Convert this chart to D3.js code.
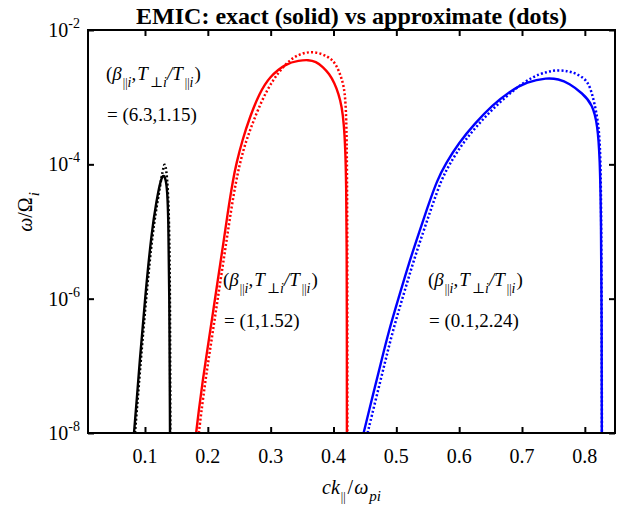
<!DOCTYPE html>
<html>
<head>
<meta charset="utf-8">
<script src="https://cdn.jsdelivr.net/npm/d3@7"></script>
<style>
body { margin: 0; background: #fff; }
svg { display: block; font-family: "Liberation Serif", "DejaVu Serif", serif; }
</style>
</head>
<body>
<script>
/*** DATA ***/
let xTicks = [0.1, 0.2, 0.3, 0.4, 0.5, 0.6, 0.7, 0.8];
let xTickLabels = ["0.1", "0.2", "0.3", "0.4", "0.5", "0.6", "0.7", "0.8"];
let yTicks = [1e-8, 1e-6, 1e-4, 1e-2];
let yTickExp = ["-8", "-6", "-4", "-2"];

/* beta = 6.3, T ratio 1.15 (noir) */
let kBlackExact = [0.0825, 0.0870, 0.0910, 0.1000, 0.1106, 0.1186, 0.1239, 0.1275, 0.1300, 0.1330, 0.1355, 0.1371, 0.1387, 0.1398];
let wBlackExact = [1e-8, 3.2e-8, 1e-7, 1e-6, 1.02e-5, 2.95e-5, 5.25e-5, 6.6e-5, 6.9e-5, 6.0e-5, 4.0e-5, 1.66e-5, 1.7e-6, 1e-8];
let kBlackApprox = [0.0841, 0.0926, 0.1016, 0.1122, 0.1212, 0.1265, 0.1295, 0.1315, 0.1340, 0.1362, 0.1382, 0.1398, 0.1403];
let wBlackApprox = [1e-8, 1e-7, 1e-6, 1.02e-5, 3.3e-5, 6.6e-5, 9.1e-5, 1.05e-4, 8.3e-5, 4.5e-5, 1.66e-5, 1.7e-6, 1e-8];

/* beta = 1, T ratio 1.52 (rouge) */
let kRedExact = [0.1814, 0.1850, 0.1920, 0.2000, 0.2080, 0.2159, 0.2239, 0.2315, 0.2400, 0.2455, 0.2550, 0.2670, 0.2820, 0.2980, 0.3247, 0.345, 0.360, 0.372, 0.383, 0.393, 0.4016, 0.408, 0.4133, 0.4165, 0.4187, 0.4203, 0.4210, 0.4213, 0.4213];
let wRedExact = [1e-8, 1.95e-8, 6.2e-8, 1.93e-7, 6.05e-7, 1.9e-6, 5.9e-6, 1.86e-5, 5.85e-5, 1.04e-4, 2.3e-4, 5.1e-4, 1.14e-3, 2.02e-3, 3.19e-3, 3.51e-3, 3.6e-3, 3.39e-3, 2.84e-3, 2.24e-3, 1.62e-3, 1.12e-3, 7.2e-4, 4.0e-4, 1.82e-4, 5.0e-5, 6.3e-6, 3.2e-7, 1e-8];
let kRedApprox = [0.1857, 0.1893, 0.1963, 0.2043, 0.2123, 0.2203, 0.2283, 0.2362, 0.2450, 0.2560, 0.2690, 0.2860, 0.3034, 0.3220, 0.3406, 0.3670, 0.3936, 0.4050, 0.4130, 0.4180, 0.4205, 0.4215, 0.4220, 0.4220];
let wRedApprox = [1e-8, 1.95e-8, 6.2e-8, 1.93e-7, 6.05e-7, 1.9e-6, 5.9e-6, 1.86e-5, 5.85e-5, 1.63e-4, 3.63e-4, 9.1e-4, 1.8e-3, 3.02e-3, 4.25e-3, 4.95e-3, 4.0e-3, 3.02e-3, 1.9e-3, 1.26e-3, 5.0e-4, 1e-4, 3.2e-6, 1e-8];

/* beta = 0.1, T ratio 2.24 (bleu) */
let kBlueExact = [0.4479, 0.4621, 0.4753, 0.4884, 0.5042, 0.5200, 0.5358, 0.5500, 0.5650, 0.5790, 0.5990, 0.6250, 0.6530, 0.6800, 0.7080, 0.7400, 0.7580, 0.7750, 0.7963, 0.8122, 0.8202, 0.8239, 0.8258, 0.8268, 0.8270];
let wBlueExact = [1e-8, 3.48e-8, 1.09e-7, 3.42e-7, 1.07e-6, 3.37e-6, 9.4e-6, 2.34e-5, 5.85e-5, 1.04e-4, 2.06e-4, 4.07e-4, 7.6e-4, 1.21e-3, 1.7e-3, 1.95e-3, 1.86e-3, 1.61e-3, 1.14e-3, 7.8e-4, 3.9e-4, 1.26e-4, 1.62e-5, 5e-7, 1e-8];
let kBlueApprox = [0.4542, 0.4684, 0.4816, 0.4947, 0.5105, 0.5263, 0.5421, 0.5565, 0.5715, 0.5855, 0.6055, 0.6315, 0.6595, 0.6900, 0.7167, 0.7400, 0.7565, 0.7730, 0.7857, 0.8042, 0.8122, 0.8228, 0.8255, 0.8265, 0.8272];
let wBlueApprox = [1e-8, 3.48e-8, 1.09e-7, 3.42e-7, 1.07e-6, 3.37e-6, 9.4e-6, 2.34e-5, 5.85e-5, 1.04e-4, 2.06e-4, 4.07e-4, 7.6e-4, 1.36e-3, 2.02e-3, 2.4e-3, 2.54e-3, 2.45e-3, 2.26e-3, 1.8e-3, 1.1e-3, 3.9e-4, 8.9e-5, 3.2e-6, 1e-8];

/*** GRAPH ***/
let margin = { top: 30, right: 2, bottom: 75, left: 88 },
  width = 617 - margin.left - margin.right,
  height = 508 - margin.top - margin.bottom;

let x = d3.scaleLinear().domain([0.0093, 0.848]).range([0, width]);
let y = d3.scaleLog().domain([1e-8, 1e-2]).range([height, 0]);

let root = d3.select("body").append("svg")
  .attr("width", 617)
  .attr("height", 508);

let svg = root.append("g")
  .attr("transform", "translate(" + margin.left + "," + margin.top + ")");

/* texte avec indices / exposants */
function rich(sel, parts) {
  let shift = 0;
  parts.forEach((p) => {
    let target = p.sub ? 7 : p.sup ? -9 : 0;
    let ts = sel.append("tspan").text(p.t);
    if (target !== shift) { ts.attr("dy", target - shift); shift = target; }
    if (p.sub || p.sup) ts.style("font-size", p.fs || "13px");
    if (p.i) ts.style("font-style", "italic");
    if (p.dx) ts.attr("dx", p.dx);
  });
}

/* courbes */
svg.append("clipPath").attr("id", "clip")
  .append("rect").attr("width", width).attr("height", height);

let line = d3.line()
  .x((d) => x(d[0]))
  .y((d) => y(d[1]))
  .curve(d3.curveBasis);

let series = [
  { k: kBlackExact, w: wBlackExact, color: "#000", dots: false },
  { k: kBlackApprox, w: wBlackApprox, color: "#000", dots: true },
  { k: kRedExact, w: wRedExact, color: "#ff0000", dots: false },
  { k: kRedApprox, w: wRedApprox, color: "#ff0000", dots: true },
  { k: kBlueExact, w: wBlueExact, color: "#0000ff", dots: false },
  { k: kBlueApprox, w: wBlueApprox, color: "#0000ff", dots: true }
];

let curves = svg.append("g").attr("clip-path", "url(#clip)");
series.forEach((s) => {
  curves.append("path")
    .datum(s.k.map((k, i) => [k, s.w[i]]))
    .attr("fill", "none")
    .attr("stroke", s.color)
    .attr("stroke-width", s.dots ? 2.5 : 2.4)
    .attr("stroke-dasharray", s.dots ? "2,2.2" : null)
    .attr("d", line);
});

/* axes (graduations vers l'intérieur) */
function styleAxis(g) {
  g.select(".domain").remove();
  g.selectAll(".tick line").attr("stroke", "#000").attr("stroke-width", 2);
}
svg.append("g").attr("transform", "translate(0," + height + ")")
  .call(d3.axisBottom(x).tickValues(xTicks).tickSize(-6).tickFormat(""))
  .call(styleAxis);
svg.append("g")
  .call(d3.axisTop(x).tickValues(xTicks).tickSize(-6).tickFormat(""))
  .call(styleAxis);
svg.append("g")
  .call(d3.axisLeft(y).tickValues(yTicks).tickSize(-6).tickFormat(""))
  .call(styleAxis);
svg.append("g").attr("transform", "translate(" + width + ",0)")
  .call(d3.axisRight(y).tickValues(yTicks).tickSize(-6).tickFormat(""))
  .call(styleAxis);

svg.append("rect")
  .attr("width", width).attr("height", height)
  .attr("fill", "none").attr("stroke", "#000").attr("stroke-width", 2);

/* étiquettes des graduations */
svg.selectAll(".xlab")
  .data(xTicks)
  .enter().append("text")
  .attr("class", "xlab")
  .attr("x", (d) => x(d))
  .attr("y", height + 30)
  .attr("text-anchor", "middle")
  .style("font-size", "20px")
  .text((d, i) => xTickLabels[i]);

yTicks.forEach((d, i) => {
  let t = svg.append("text")
    .attr("x", -8)
    .attr("y", y(d) + 7)
    .attr("text-anchor", "end")
    .style("font-size", "20px");
  rich(t, [{ t: "10" }, { t: yTickExp[i], sup: true, fs: "14px" }]);
});

/* titre */
root.append("text")
  .attr("x", margin.left + width / 2)
  .attr("y", 24)
  .attr("text-anchor", "middle")
  .style("font-size", "24px")
  .style("font-weight", "bold")
  .text("EMIC: exact (solid) vs approximate (dots)");

/* titres des axes */
let xl = root.append("text")
  .attr("x", margin.left + width / 2)
  .attr("y", 494)
  .attr("text-anchor", "middle")
  .style("font-size", "20px");
rich(xl, [{ t: "ck", i: true }, { t: "||", sub: true, fs: "12px", dx: 1 }, { t: "/", dx: 2 }, { t: "ω", i: true, dx: 1 }, { t: "pi", sub: true, i: true, fs: "15px", dx: 1 }]);

let yl = root.append("text")
  .attr("transform", "translate(32,212) rotate(-90)")
  .attr("text-anchor", "middle")
  .style("font-size", "20px");
rich(yl, [{ t: "ω", i: true }, { t: "/Ω" }, { t: "i", sub: true, i: true, fs: "15px", dx: 1 }]);

/* annotations */
let notes = [
  { x: 106, y: 80, val: "= (6.3,1.15)" },
  { x: 223, y: 286, val: "= (1,1.52)" },
  { x: 428, y: 286, val: "= (0.1,2.24)" }
];
notes.forEach((n) => {
  let t1 = root.append("text").attr("x", n.x).attr("y", n.y).style("font-size", "19px");
  rich(t1, [
    { t: "(" }, { t: "β", i: true },
    { t: "||", sub: true, fs: "12px", dx: 1 }, { t: "i", sub: true, i: true, fs: "14px" },
    { t: "," }, { t: "T", i: true, dx: 1 },
    { t: "⊥", sub: true, fs: "14px", dx: 2 }, { t: "i", sub: true, i: true, fs: "14px" },
    { t: "/", i: true }, { t: "T", i: true },
    { t: "||", sub: true, fs: "12px", dx: 2 }, { t: "i", sub: true, i: true, fs: "14px" },
    { t: ")", dx: 1 }
  ]);
  root.append("text").attr("x", n.x + 1).attr("y", n.y + 41)
    .style("font-size", "19px")
    .text(n.val);
});
</script>
</body>
</html>
